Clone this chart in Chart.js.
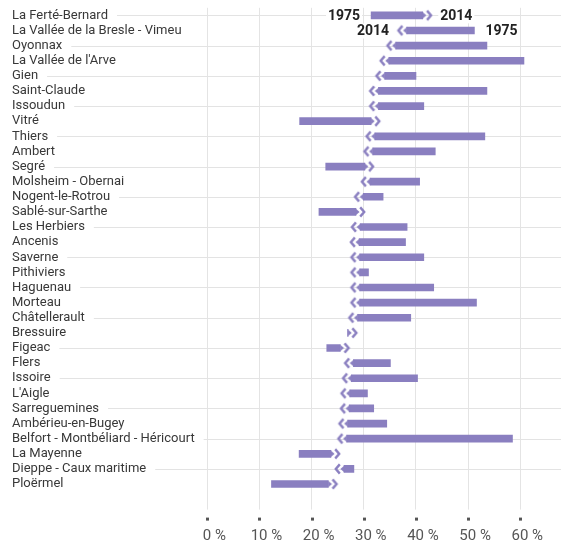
<!DOCTYPE html>
<html lang="fr">
<head>
<meta charset="utf-8">
<title>Part de l'emploi industriel, 1975-2014</title>
<script src="https://cdn.jsdelivr.net/npm/chart.js@4"></script>
<style>
  html, body { margin: 0; padding: 0; background: #fff; }
  #graphique { display: block; }
</style>
</head>
<body>
<canvas id="graphique" width="566" height="546"></canvas>
<script>
// zones d'emploi, de haut en bas
const zones = [
  'La Ferté-Bernard', 'La Vallée de la Bresle - Vimeu', 'Oyonnax', "La Vallée de l'Arve",
  'Gien', 'Saint-Claude', 'Issoudun', 'Vitré', 'Thiers', 'Ambert', 'Segré',
  'Molsheim - Obernai', 'Nogent-le-Rotrou', 'Sablé-sur-Sarthe', 'Les Herbiers',
  'Ancenis', 'Saverne', 'Pithiviers', 'Haguenau', 'Morteau', 'Châtellerault',
  'Bressuire', 'Figeac', 'Flers', 'Issoire', "L'Aigle", 'Sarreguemines',
  'Ambérieu-en-Bugey', 'Belfort - Montbéliard - Héricourt', 'La Mayenne',
  'Dieppe - Caux maritime', 'Ploërmel'
];
// part de l'emploi (%) : départ de la flèche (1975) et fin du trait (2014)
const part1975 = [31.4, 51.2, 53.6, 60.7, 40.0, 53.6, 41.5, 17.7, 53.2, 43.7, 22.7,
  40.7, 33.7, 21.4, 38.3, 38.0, 41.5, 30.9, 43.4, 51.6, 39.0,
  26.9, 22.9, 35.1, 40.3, 30.7, 31.9, 34.4, 58.5, 17.6, 28.1, 12.3];
const part2014 = [41.3, 38.2, 36.1, 34.8, 34.0, 32.8, 32.8, 31.4, 32.1, 31.7, 30.2,
  31.2, 29.9, 28.5, 29.3, 29.1, 29.2, 29.2, 29.2, 29.2, 28.8,
  27.0, 25.5, 28.0, 27.6, 27.3, 27.2, 26.9, 26.7, 23.7, 26.2, 23.2];
const annees = ['1975', '2014'];
const graduations = [0, 10, 20, 30, 40, 50, 60];
const etiquettesX = ['0 %', '10 %', '20 %', '30 %', '40 %', '50 %', '60 %'];

const violet = '#8a7fc0';
const police = "Roboto, 'Liberation Sans', sans-serif";

// pointe de flèche : petit triangle plein + chevron
function pointeFleche(versDroite) {
  const c = document.createElement('canvas');
  c.width = 40;
  c.height = 16;
  const g = c.getContext('2d');
  g.translate(20, 8);
  if (!versDroite) g.scale(-1, 1);
  g.fillStyle = violet;
  g.strokeStyle = violet;
  g.beginPath();
  g.moveTo(-0.5, -3.5);
  g.lineTo(3.6, 0);
  g.lineTo(-0.5, 3.5);
  g.closePath();
  g.fill();
  g.lineWidth = 2.4;
  g.beginPath();
  g.moveTo(4.2, -4.6);
  g.lineTo(8.2, 0);
  g.lineTo(4.2, 4.6);
  g.stroke();
  return c;
}
const pointeDroite = pointeFleche(true);
const pointeGauche = pointeFleche(false);

// traits gris d'une ligne sur deux, du nom jusqu'au bord droit
const lignesGuides = {
  id: 'lignesGuides',
  beforeDatasetsDraw(chart) {
    const { ctx, chartArea, scales: { y } } = chart;
    ctx.save();
    ctx.font = '13px ' + police;
    ctx.strokeStyle = '#e3e3e3';
    ctx.lineWidth = 1;
    zones.forEach((nom, i) => {
      if (i % 2) return;
      const py = Math.round(y.getPixelForValue(i)) + 0.5;
      const x0 = y.left + ctx.measureText(nom).width + 9;
      ctx.beginPath();
      ctx.moveTo(x0, py);
      ctx.lineTo(chartArea.right, py);
      ctx.stroke();
    });
    ctx.restore();
  }
};

// "1975" / "2014" sur les deux premières flèches
const etiquettesAnnees = {
  id: 'etiquettesAnnees',
  afterDatasetsDraw(chart) {
    const { ctx, scales: { x, y } } = chart;
    ctx.save();
    ctx.font = 'bold 14px ' + police;
    ctx.textBaseline = 'middle';
    function poser(txt, px, py, align) {
      const w = ctx.measureText(txt).width;
      const gauche = align === 'left' ? px : px - w;
      ctx.fillStyle = '#fff';
      ctx.fillRect(gauche - 2, py - 8, w + 4, 15);
      ctx.fillStyle = '#222';
      ctx.textAlign = align;
      ctx.fillText(txt, px, py);
    }
    [0, 1].forEach(i => {
      const py = y.getPixelForValue(i) + 1;
      const a = x.getPixelForValue(part1975[i]);
      const b = x.getPixelForValue(part2014[i]);
      const sens = b >= a ? 1 : -1;
      poser(annees[0], a - sens * 11, py, sens > 0 ? 'right' : 'left');
      poser(annees[1], b + sens * 17.5, py, sens > 0 ? 'left' : 'right');
    });
    ctx.restore();
  }
};

// petits carrés sous les graduations
const reperesX = {
  id: 'reperesX',
  afterDraw(chart) {
    const { ctx, scales: { x } } = chart;
    ctx.save();
    ctx.fillStyle = '#555';
    graduations.forEach(v => {
      const px = Math.round(x.getPixelForValue(v));
      ctx.fillRect(px - 1, x.top + 26, 3, 3);
    });
    ctx.restore();
  }
};

new Chart(document.getElementById('graphique'), {
  type: 'bar',
  data: {
    labels: zones,
    datasets: [
      {
        type: 'bar',
        data: zones.map((_, i) => [part1975[i], part2014[i]]),
        backgroundColor: violet,
        borderWidth: 0,
        borderSkipped: false,
        barThickness: 7,
        order: 2
      },
      {
        type: 'line',
        data: zones.map((nom, i) => ({ x: part2014[i], y: nom })),
        showLine: false,
        pointRadius: 3,
        pointStyle: c => part2014[c.dataIndex] >= part1975[c.dataIndex] ? pointeDroite : pointeGauche,
        order: 1
      }
    ]
  },
  options: {
    indexAxis: 'y',
    responsive: false,
    animation: false,
    layout: { padding: { left: 12, right: 4, top: 7.4, bottom: 0 } },
    plugins: {
      legend: { display: false },
      tooltip: { enabled: false }
    },
    scales: {
      x: {
        min: 0,
        max: 67.8,
        afterBuildTicks: s => { s.ticks = graduations.map(v => ({ value: v })); },
        afterFit: s => { s.height = 54.4; },
        border: { display: false },
        grid: { color: '#e4e4e4', tickColor: '#e4e4e4', tickLength: 18 },
        ticks: {
          callback: (v, i) => etiquettesX[i],
          color: '#555',
          font: { family: police, size: 15 },
          padding: 17.2,
          labelOffset: 7,
          maxRotation: 0,
          autoSkip: false
        }
      },
      y: {
        afterFit: s => { s.width = 195.3; },
        border: { display: false },
        grid: { display: false },
        ticks: {
          autoSkip: false,
          crossAlign: 'far',
          color: '#383838',
          font: { family: police, size: 13 },
          padding: 0
        }
      }
    }
  },
  plugins: [lignesGuides, etiquettesAnnees, reperesX]
});
</script>
</body>
</html>
